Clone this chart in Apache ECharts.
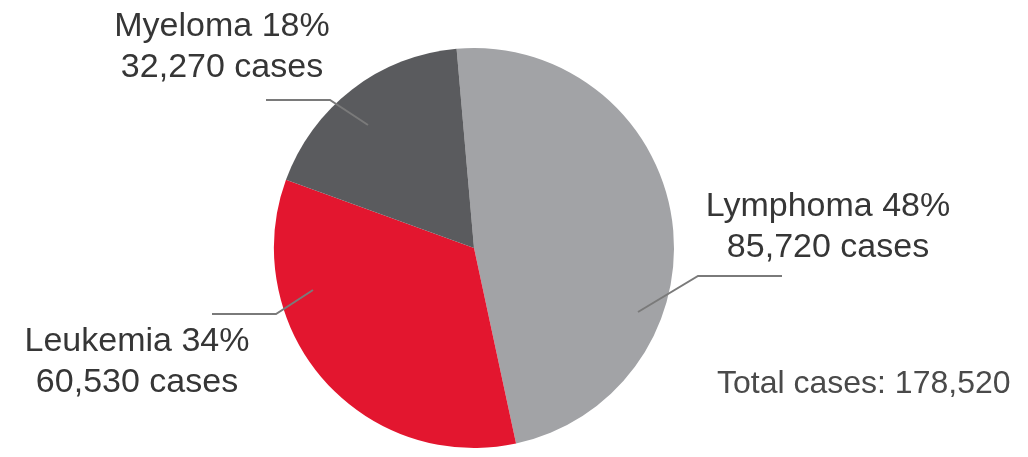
<!DOCTYPE html>
<html>
<head>
<meta charset="utf-8">
<script src="https://cdn.jsdelivr.net/npm/echarts@6/dist/echarts.min.js"></script>
<style>html,body{margin:0;padding:0;background:#fff;}#c{width:1028px;height:457px;}</style>
</head>
<body>
<div id="c"></div>
<script>
// ---- data ----
const categories = ['Lymphoma', 'Leukemia', 'Myeloma'];
const cases = [85720, 60530, 32270];
const totalLabel = 'Total cases';

// ---- styling / layout (not data) ----
const sliceColors = ['#a2a3a6', '#e3162f', '#5a5b5e'];
const labelLayouts = [
  { x: 828, y: 227, line: [[638, 312], [698, 276], [782, 276]] },
  { x: 137, y: 362, line: [[313, 290], [276, 314], [212, 314]] },
  { x: 222, y: 47,  line: [[368, 125], [330, 100], [266, 100]] }
];

const fmt = v => v.toLocaleString('en-US');
const total = cases.reduce((a, b) => a + b, 0);

const pieBase = {
  type: 'pie',
  center: [474, 248],
  radius: 200,
  startAngle: 95,
  clockwise: true,
  avoidLabelOverlap: false,
  percentPrecision: 0
};

const chart = echarts.init(document.getElementById('c'), null, { renderer: 'canvas' });
chart.setOption({
  backgroundColor: '#ffffff',
  animation: false,
  title: {
    text: totalLabel + ': ' + fmt(total),
    left: 712, top: 363,
    textStyle: { fontFamily: 'Liberation Sans', fontSize: 32, fontWeight: 'normal', color: '#4a4a4a' }
  },
  series: [
    Object.assign({}, pieBase, {
      z: 2,
      itemStyle: { borderWidth: 0 },
      label: { show: false },
      labelLine: { show: false },
      data: categories.map((n, i) => ({ name: n, value: cases[i], itemStyle: { color: sliceColors[i] } }))
    }),
    Object.assign({}, pieBase, {
      z: 5,
      silent: true,
      itemStyle: { color: 'rgba(0,0,0,0)', borderWidth: 0 },
      label: {
        show: true,
        position: 'outside',
        fontFamily: 'Liberation Sans',
        fontSize: 34,
        lineHeight: 41,
        color: '#363636',
        align: 'center',
        formatter: p => p.name + ' ' + Math.round(p.percent) + '%\n' + fmt(p.value) + ' cases'
      },
      labelLine: { show: true, lineStyle: { color: '#7a7a7a', width: 2 } },
      labelLayout: function (params) {
        const L = labelLayouts[params.dataIndex];
        return {
          x: L.x, y: L.y, align: 'center', verticalAlign: 'middle',
          labelLinePoints: L.line
        };
      },
      data: categories.map((n, i) => ({ name: n, value: cases[i] }))
    })
  ]
});
</script>
</body>
</html>
